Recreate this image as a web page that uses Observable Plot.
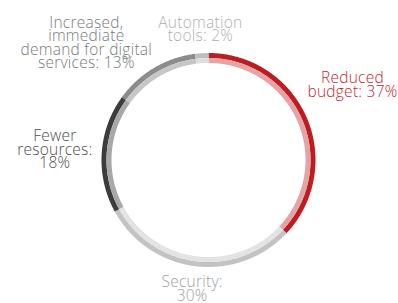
<!DOCTYPE html>
<html>
<head>
<meta charset="utf-8">
<script src="https://cdn.jsdelivr.net/npm/d3@7"></script>
<script src="https://cdn.jsdelivr.net/npm/@observablehq/plot@0.6"></script>
<style>
  html, body { margin: 0; padding: 0; background: #fff; }
  #chart svg { display: block; }
</style>
</head>
<body>
<div id="chart"></div>
<script>
// ---- data ----
const categories = ["Reduced budget", "Security", "Fewer resources", "Increased, immediate demand for digital services", "Automation tools"];
const shares = [37, 30, 18, 13, 2];
const labels = [
  "Reduced\nbudget: 37%",
  "Security:\n30%",
  "Fewer\nresources:\n18%",
  "Increased,\nimmediate\ndemand for digital\nservices: 13%",
  "Automation\ntools: 2%"
];

// ---- styles ----
const outerColors = ["#bc1c22", "#c3c3c3", "#3c3c3c", "#8b8b8b", "#bebebe"];
const innerColors = ["#e7a3a4", "#e3e3e3", "#a8a8a8", "#c6c6c6", "#dedede"];
const labelColors = ["#c1272d", "#a0a0a0", "#4d4d4d", "#7a7a7a", "#b0b0b0"];
const W = 398, H = 303;
const CX = 208, CY = 159.5;          // ring centre in pixels
const R_OUT = 104.5, R_IN = 99.5, BAND = 5;
const FONT = "Open Sans", FW = 350, FS = 15.5, LH = 13.5, LS = 0.25;
const GAP = 116, TOPM = 16, BOTM = 0, SIDEM = 1;

// ---- arcs ----
const total = d3.sum(shares);
const starts = d3.cumsum([0, ...shares]).slice(0, shares.length);
const arcPts = [];
categories.forEach((c, i) => {
  const a0 = starts[i] / total * 2 * Math.PI;
  const a1 = (starts[i] + shares[i]) / total * 2 * Math.PI;
  const n = Math.max(2, Math.ceil((a1 - a0) / (Math.PI / 360)));
  for (const [band, r, col] of [["outer", R_OUT, outerColors[i]], ["inner", R_IN, innerColors[i]]]) {
    for (let k = 0; k <= n; k++) {
      const a = a0 + (a1 - a0) * k / n;
      arcPts.push({key: c + band, color: col, x: r * Math.sin(a), y: r * Math.cos(a)});
    }
  }
});

// ---- label placement (data units = pixels, y up, ring centre at 0,0) ----
const ctx = document.createElement("canvas").getContext("2d");
ctx.font = `${FW} ${FS}px "${FONT}"`;
try { ctx.letterSpacing = LS + "px"; } catch (e) {}
const tw = s => ctx.measureText(s).width;
function lineBoxes(text, cx, cy) {
  const lines = text.split("\n");
  const n = lines.length;
  return lines.map((l, j) => {
    const hw = tw(l) / 2;
    const top = cy + n * LH / 2 - j * LH;
    return {x0: cx - hw, x1: cx + hw, y0: top - LH, y1: top};
  });
}
function minDist(boxes) {
  return d3.min(boxes, b => Math.hypot(Math.max(b.x0, 0, -b.x1), Math.max(b.y0, 0, -b.y1)));
}
const xMin = -CX + SIDEM, xMax = W - CX - SIDEM, yMax = CY - TOPM, yMin = CY - H + BOTM;
const labelData = labels.map((t, i) => {
  const lines = t.split("\n");
  const hw = d3.max(lines, tw) / 2;
  const hh = lines.length * LH / 2;
  const mid = (starts[i] + shares[i] / 2) / total * 2 * Math.PI;
  const ux = Math.sin(mid), uy = Math.cos(mid);
  let s = 0, g = 0;
  while (minDist(lineBoxes(t, s * ux, s * uy)) < GAP && g++ < 2000) s += 0.25;
  let cx = s * ux, cy = s * uy;
  let clampY = false, clampX = false;
  if (cy + hh > yMax) { cy = yMax - hh; clampY = true; }
  if (cy - hh < yMin) { cy = yMin + hh; clampY = true; }
  if (cx + hw > xMax) { cx = xMax - hw; clampX = true; }
  if (cx - hw < xMin) { cx = xMin + hw; clampX = true; }
  g = 0;
  if (clampY && !clampX) {
    const sx = Math.sign(ux) || 1;
    while (minDist(lineBoxes(t, cx, cy)) < GAP && g++ < 2000) cx += sx * 0.25;
  } else if (clampX && !clampY) {
    const sy = Math.sign(uy) || 1;
    while (minDist(lineBoxes(t, cx, cy)) < GAP && g++ < 2000) cy += sy * 0.25;
  }
  return {text: t, x: cx, y: cy, color: labelColors[i]};
});

const chart = Plot.plot({
  width: W,
  height: H,
  margin: 0,
  x: {domain: [-CX, W - CX], axis: null},
  y: {domain: [CY - H, CY], axis: null},
  marks: [
    Plot.line(arcPts, {x: "x", y: "y", z: "key", stroke: "color", strokeWidth: BAND, strokeLinecap: "butt", curve: "linear"}),
    Plot.text(labelData, {
      x: "x", y: "y", text: "text", fill: "color",
      fontSize: FS, fontWeight: FW, lineHeight: LH / FS,
      textAnchor: "middle", lineAnchor: "middle"
    })
  ],
  style: {fontFamily: FONT, letterSpacing: LS + "px", background: "#fff"}
});
document.getElementById("chart").append(chart);
</script>
</body>
</html>
